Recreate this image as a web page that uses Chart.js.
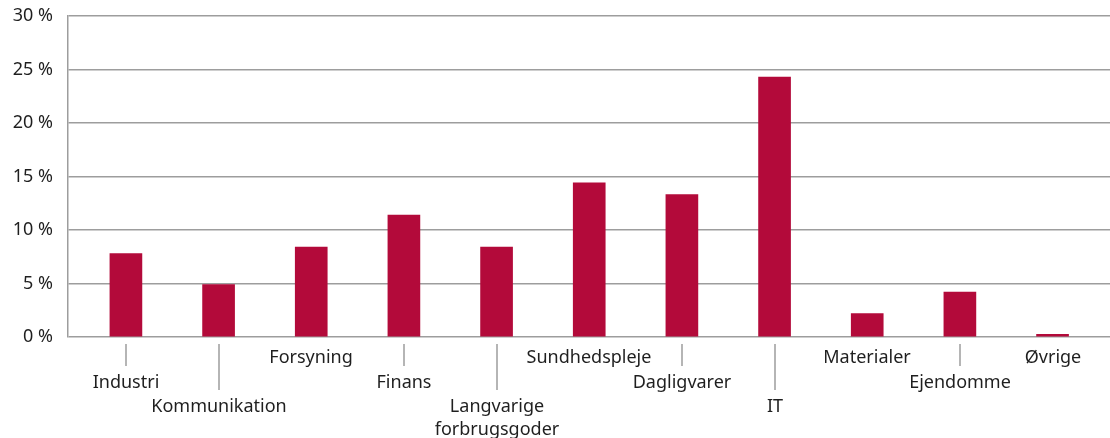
<!DOCTYPE html>
<html>
<head>
<meta charset="utf-8">
<script src="https://cdn.jsdelivr.net/npm/chart.js@4"></script>
<style>
  body { margin: 0; background: #fff; }
</style>
</head>
<body>
<canvas id="sectorChart" width="1110" height="438"></canvas>
<script>
// Sector weights (%)
const sectors = ['Industri', 'Kommunikation', 'Forsyning', 'Finans', ['Langvarige', 'forbrugsgoder'],
    'Sundhedspleje', 'Dagligvarer', 'IT', 'Materialer', 'Ejendomme', 'Øvrige'];
const weights = [7.8, 4.9, 8.4, 11.4, 8.4, 14.4, 13.3, 24.3, 2.2, 4.2, 0.25];
const yTicks = [0, 5, 10, 15, 20, 25, 30];
// which label row each sector sits on (1 = top, no connector line)
const labelRows = [2, 3, 1, 2, 3, 1, 2, 3, 1, 2, 1];

const GRID = '#9d9d9d';
const TEXT = '#1f1f1f';
const FONT = '"Noto Sans", sans-serif';

// row baselines below the axis, and how far the connector reaches
const rowBaseline = [0, 362.5, 388, 411.5, 435];
const tickEnd = { 2: 366, 3: 390 };

const categoryLabels = {
    id: 'categoryLabels',
    afterDraw(chart) {
        const c = chart.ctx;
        const xs = chart.scales.x;
        const top = chart.chartArea.bottom + 7;
        c.save();
        c.font = '18px ' + FONT;
        c.fillStyle = TEXT;
        c.textAlign = 'center';
        c.textBaseline = 'alphabetic';
        sectors.forEach((name, i) => {
            const px = Math.round(xs.getPixelForValue(i));
            const row = labelRows[i];
            if (tickEnd[row]) {
                c.strokeStyle = GRID;
                c.lineWidth = 1.5;
                c.beginPath();
                c.moveTo(px, top);
                c.lineTo(px, tickEnd[row]);
                c.stroke();
            }
            const lines = Array.isArray(name) ? name : [name];
            lines.forEach((txt, k) => c.fillText(txt, px, rowBaseline[row + k]));
        });
        c.restore();
    }
};

new Chart(document.getElementById('sectorChart'), {
    type: 'bar',
    data: {
        datasets: [{
            data: weights.map((v, i) => ({ x: i, y: v })),
            backgroundColor: '#b30a3a',
            barThickness: 32
        }]
    },
    options: {
        responsive: false,
        animation: false,
        devicePixelRatio: 1,
        layout: { padding: { top: 16, bottom: 101, right: 0 } },
        plugins: { legend: { display: false }, tooltip: { enabled: false } },
        scales: {
            x: {
                type: 'linear',
                display: false,
                offset: false,
                grid: { offset: false },
                min: -0.625,
                max: 10.62
            },
            y: {
                min: 0,
                max: 30,
                afterFit(scale) {
                    scale.width = 68;
                    scale.paddingTop = 0;
                    scale.paddingBottom = 0;
                },
                afterBuildTicks(scale) { scale.ticks = yTicks.map(v => ({ value: v })); },
                border: { display: true, color: GRID, width: 1.5 },
                grid: { color: GRID, lineWidth: 1.5, drawTicks: false },
                ticks: {
                    padding: 15,
                    color: TEXT,
                    font: { family: FONT, size: 18 },
                    callback: v => v + ' %'
                }
            }
        }
    },
    plugins: [categoryLabels]
});
</script>
</body>
</html>
